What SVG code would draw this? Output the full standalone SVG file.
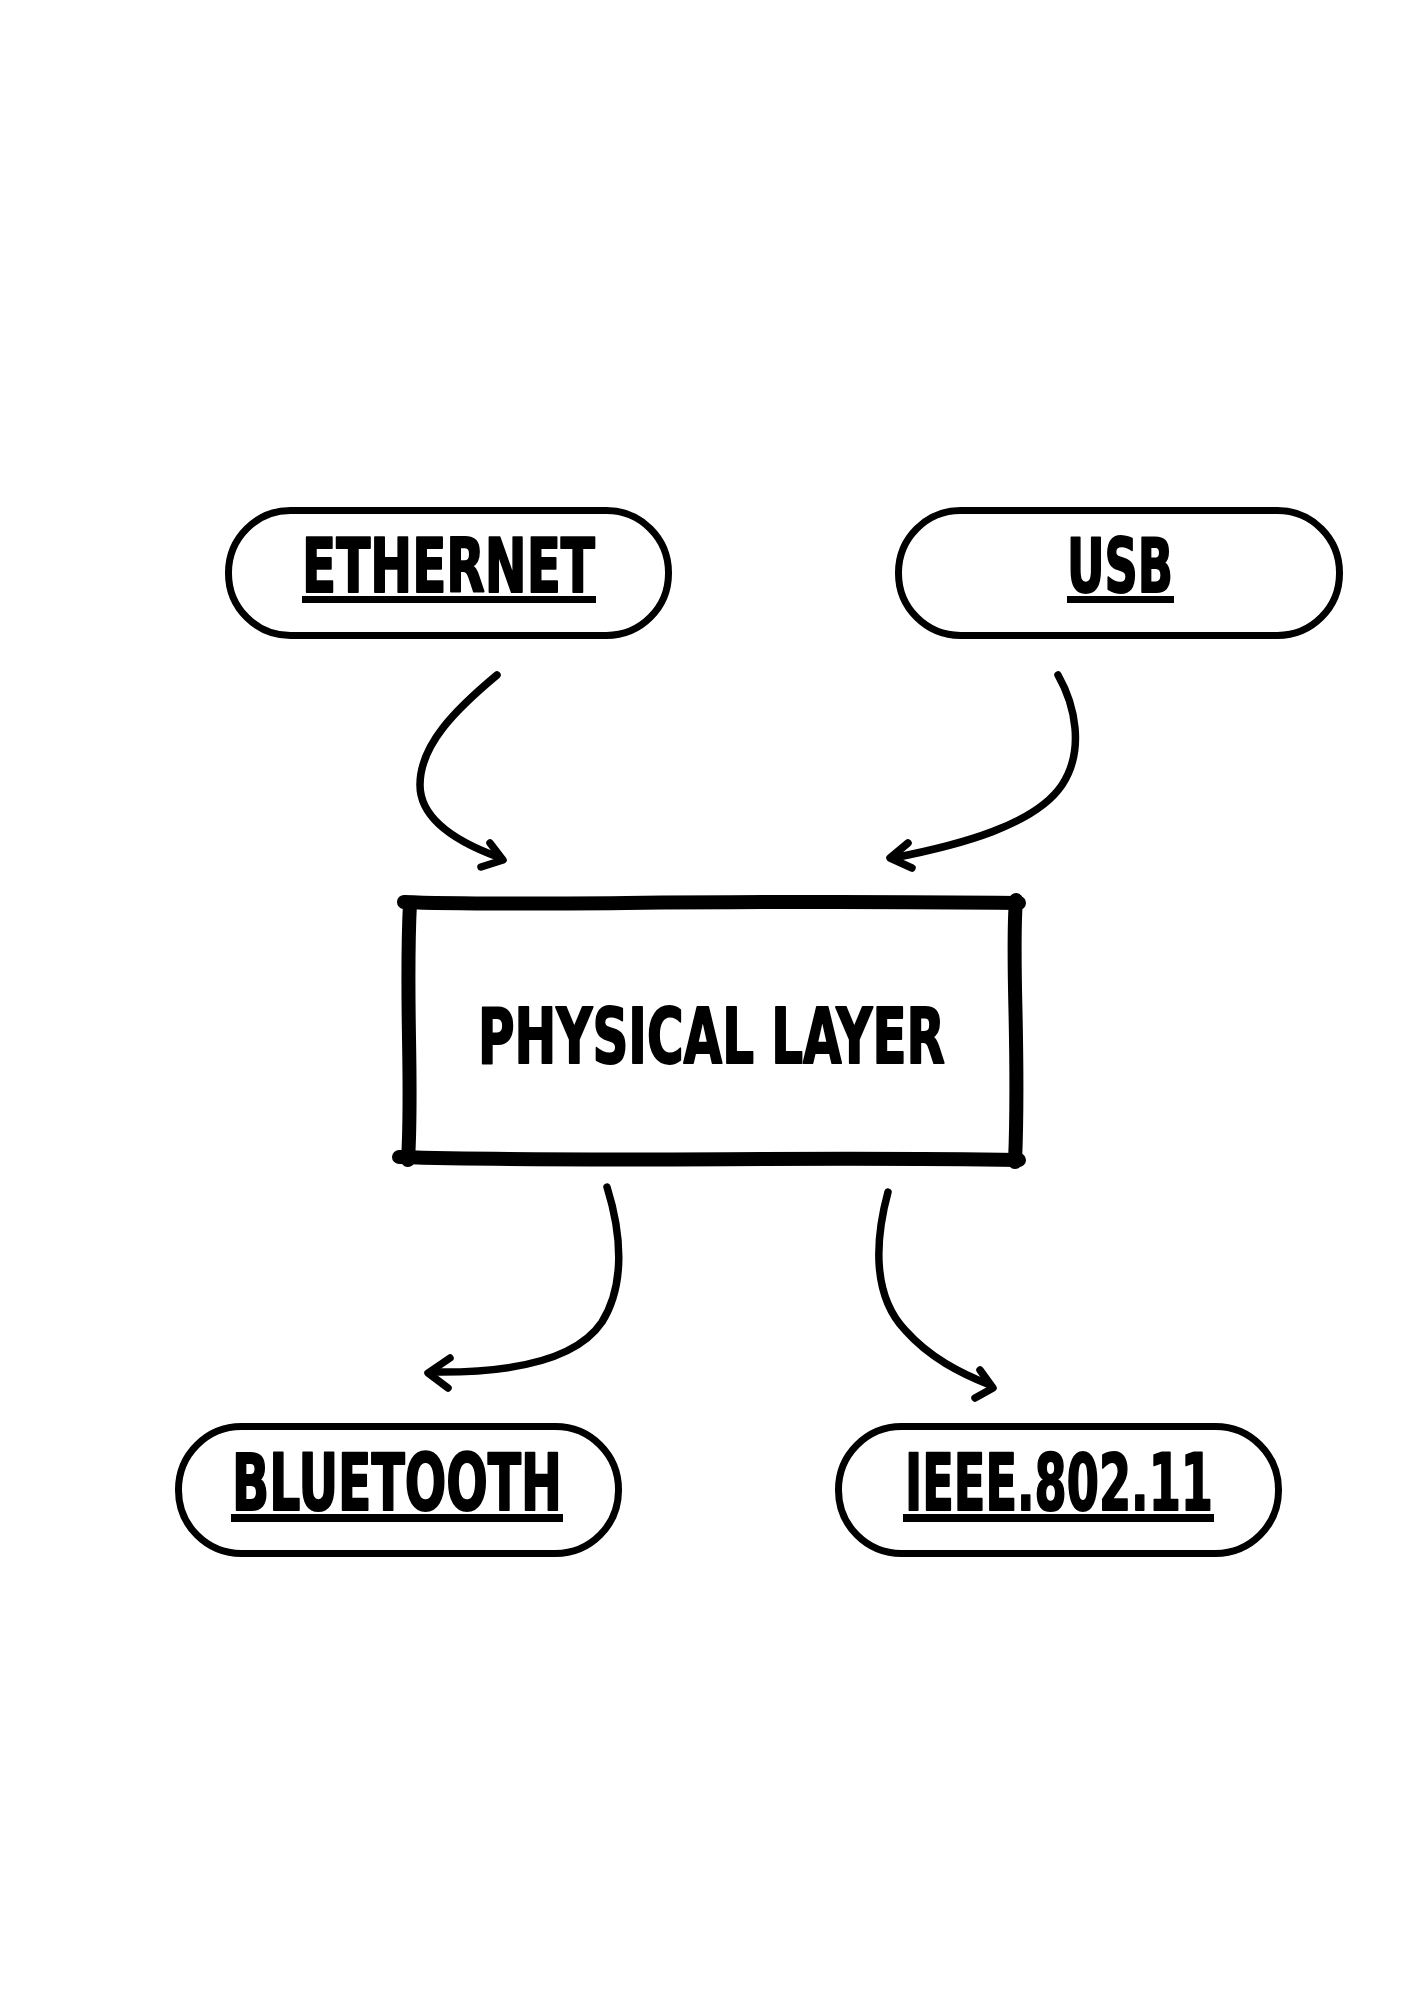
<svg xmlns="http://www.w3.org/2000/svg" width="1414" height="2000" viewBox="0 0 1414 2000">
<style>
.pill{fill:#fff;stroke:#000;stroke-width:7}
.lbl{font-family:"Liberation Sans Narrow","DejaVu Sans Condensed","Liberation Sans",sans-serif;font-weight:bold;fill:#000;stroke:#000;stroke-width:2;stroke-linejoin:round}
.ul{fill:#000}
.sk{fill:none;stroke:#000;stroke-width:14;stroke-linecap:round;stroke-linejoin:round}
.con{fill:none;stroke:#000;stroke-width:7.5;stroke-linecap:round;stroke-linejoin:round}
</style>
<rect width="1414" height="2000" fill="#fff"/>
<g id="ethernet">
<rect class="pill" x="228.5" y="510.5" width="440" height="125" rx="62" ry="62"/>
<text class="lbl" x="302" y="592" font-size="75" textLength="293" lengthAdjust="spacingAndGlyphs">ETHERNET</text>
<rect class="ul" x="302" y="596" width="294" height="7"/>
</g>
<g id="usb">
<rect class="pill" x="898.5" y="510.5" width="441" height="125" rx="62" ry="62"/>
<text class="lbl" x="1067" y="592" font-size="75" textLength="106" lengthAdjust="spacingAndGlyphs">USB</text>
<rect class="ul" x="1067" y="596" width="107" height="7"/>
</g>
<g id="physical-layer">
<rect x="410" y="905" width="606" height="255" fill="#fff"/>
<path class="sk" d="M404 902 C520 907 700 899 1019 903"/>
<path class="sk" d="M1016 900 C1011 960 1020 1050 1015 1162"/>
<path class="sk" d="M399 1157 C600 1163 800 1156 1019 1160"/>
<path class="sk" d="M410 903 C405 1000 413 1080 408 1160"/>
<text class="lbl" x="478" y="1063" font-size="77" textLength="467" lengthAdjust="spacingAndGlyphs">PHYSICAL LAYER</text>
</g>
<g id="bluetooth">
<rect class="pill" x="178.5" y="1426.5" width="440" height="127" rx="63" ry="63"/>
<text class="lbl" x="232" y="1510" font-size="79" textLength="330" lengthAdjust="spacingAndGlyphs">BLUETOOTH</text>
<rect class="ul" x="231" y="1514" width="332" height="8"/>
</g>
<g id="ieee">
<rect class="pill" x="838.5" y="1426.5" width="440" height="127" rx="63" ry="63"/>
<text class="lbl" x="905" y="1510" font-size="79" textLength="308" lengthAdjust="spacingAndGlyphs">IEEE.802.11</text>
<rect class="ul" x="903" y="1514" width="311" height="8"/>
</g>
<g id="connectors">
<path class="con" d="M497 675 C455 710 420 745 420 785 C420 820 460 843 498 857"/>
<path class="con" d="M490 843 L503 860 L481 867"/>
<path class="con" d="M1058 675 C1075 705 1085 750 1062 785 C1035 825 960 845 893 858"/>
<path class="con" d="M908 843 L890 858 L912 868"/>
<path class="con" d="M607 1187 C622 1235 625 1285 602 1322 C575 1362 505 1373 432 1372"/>
<path class="con" d="M450 1358 L428 1373 L448 1388"/>
<path class="con" d="M888 1192 C875 1240 872 1295 905 1330 C930 1358 960 1373 990 1385"/>
<path class="con" d="M980 1370 L993 1388 L975 1398"/>
</g>
</svg>
